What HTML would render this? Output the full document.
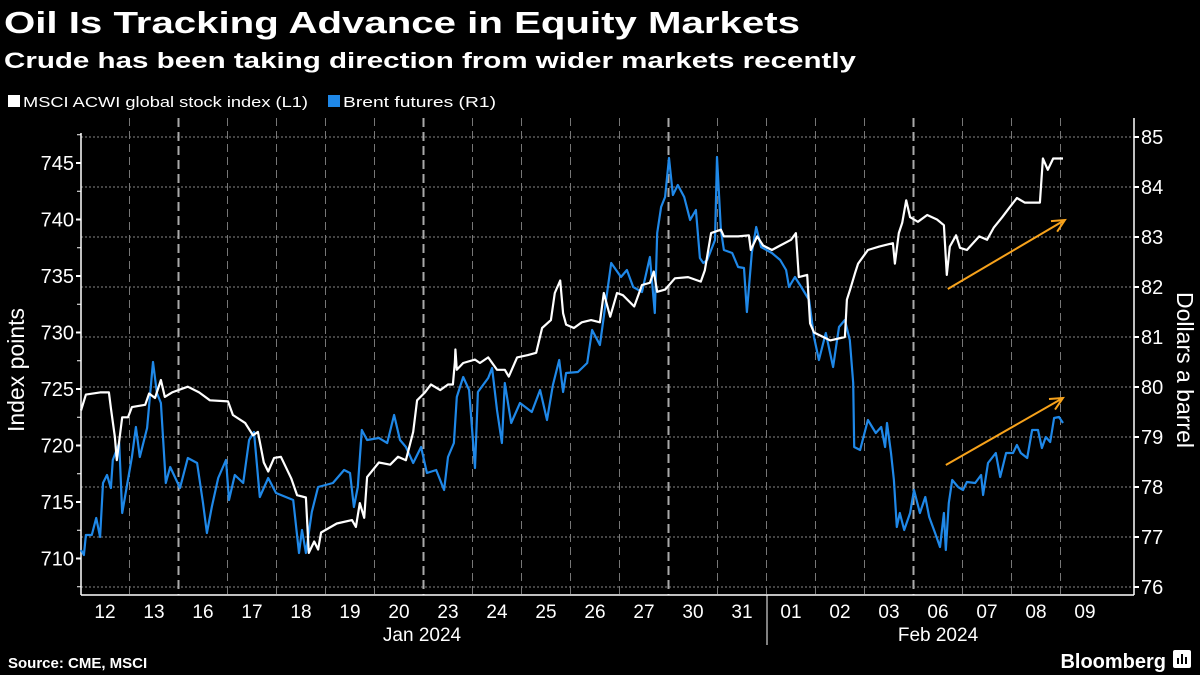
<!DOCTYPE html>
<html><head><meta charset="utf-8"><style>
html,body{margin:0;padding:0;background:#000;}
svg{display:block;font-family:"Liberation Sans",sans-serif;}
</style></head><body>
<svg id="chart" width="1200" height="675" viewBox="0 0 1200 675" xmlns="http://www.w3.org/2000/svg">
<rect width="1200" height="675" fill="#000"/>
<text x="4" y="33" fill="#fff" font-size="31" font-weight="bold" textLength="796" lengthAdjust="spacingAndGlyphs">Oil Is Tracking Advance in Equity Markets</text>
<text x="4" y="68" fill="#fff" font-size="22" font-weight="bold" textLength="852" lengthAdjust="spacingAndGlyphs">Crude has been taking direction from wider markets recently</text>
<g>
<g><rect x="8" y="95" width="12" height="12" fill="#fff"/><text x="23" y="107" fill="#fff" font-size="15" textLength="285" lengthAdjust="spacingAndGlyphs">MSCI ACWI global stock index (L1)</text></g>
<g><rect x="328" y="95" width="12" height="12" fill="#1f88e8"/><text x="343" y="107" fill="#fff" font-size="15" textLength="153" lengthAdjust="spacingAndGlyphs">Brent futures (R1)</text></g>
</g>
<g id="grid"></g>
<g id="axes"></g>
<g id="series"></g>
<text transform="translate(24,370) rotate(-90)" text-anchor="middle" fill="#fff" font-size="23">Index points</text>
<text transform="translate(1177,370) rotate(90)" text-anchor="middle" fill="#fff" font-size="23">Dollars a barrel</text>
<text x="8" y="668" fill="#fff" font-size="15" font-weight="bold">Source: CME, MSCI</text>
<g>
<text x="1166" y="668" text-anchor="end" fill="#fff" font-size="20" font-weight="bold">Bloomberg</text>
<rect x="1173" y="650" width="18" height="18" rx="2" fill="#fff"/>
<rect x="1177" y="658" width="2" height="6" fill="#000"/>
<rect x="1181" y="654" width="2" height="10" fill="#000"/>
<rect x="1185" y="657" width="2" height="7" fill="#000"/>
</g>
</svg>
<script>
const dayLabels = ["12","13","16","17","18","19","20","23","24","25","26","27","30","31","01","02","03","06","07","08","09"];
const weekBreaks = [1,6,11,16];
const leftTicks = [710,715,720,725,730,735,740,745];
const rightTicks = [76,77,78,79,80,81,82,83,84,85];
const msciTimes = [0.01,0.11,0.40,0.58,0.62,0.70,0.74,0.85,0.97,1.05,1.32,1.40,1.52,1.64,1.72,1.87,2.19,2.42,2.64,3.01,3.11,3.36,3.52,3.62,3.74,3.83,3.95,4.09,4.30,4.42,4.60,4.66,4.77,4.85,4.91,5.23,5.54,5.62,5.70,5.79,5.85,6.09,6.32,6.48,6.64,6.79,6.87,7.03,7.15,7.34,7.50,7.60,7.64,7.65,7.68,7.81,8.05,8.15,8.32,8.50,8.66,8.74,8.91,9.13,9.30,9.42,9.60,9.68,9.79,9.85,9.91,10.07,10.23,10.42,10.60,10.68,10.81,10.95,11.07,11.30,11.46,11.62,11.70,11.77,11.93,12.13,12.40,12.66,12.74,12.87,13.07,13.13,13.42,13.64,13.68,13.81,13.93,14.11,14.28,14.50,14.60,14.66,14.83,14.89,14.97,15.30,15.60,15.64,15.72,15.81,15.87,16.07,16.30,16.58,16.62,16.70,16.77,16.85,16.93,17.09,17.28,17.48,17.62,17.68,17.74,17.87,17.95,18.09,18.34,18.50,18.64,18.81,18.95,19.11,19.27,19.50,19.58,19.64,19.74,19.85,20.05];
const msciValues = [723.1,724.5,724.7,724.7,723.3,720.8,718.7,722.5,722.5,723.4,723.6,724.6,724.2,725.8,724.3,724.7,725.2,724.7,724.0,723.9,722.7,722.0,720.9,721.2,718.5,717.7,718.9,719.0,717.1,715.6,715.4,710.5,711.5,710.8,712.3,713.1,713.4,712.8,714.9,713.6,717.2,718.5,718.3,719.0,718.7,721.2,724.0,724.7,725.4,724.9,725.4,725.4,727.4,728.5,726.7,727.3,727.6,727.3,727.8,726.7,726.7,726.1,727.8,728.0,728.2,730.4,731.1,733.5,734.6,731.7,730.7,730.4,730.9,731.1,730.9,733.5,731.4,733.5,733.3,732.3,734.2,734.4,735.4,733.6,733.8,734.8,734.9,734.5,735.5,738.8,739.1,738.5,738.5,738.6,737.3,738.5,737.7,737.3,737.7,738.2,738.8,734.9,735.1,730.8,730.0,729.3,729.6,732.9,734.0,735.3,736.1,737.3,737.6,737.9,736.1,738.8,739.7,741.7,740.2,739.8,740.4,740.0,739.5,735.1,737.6,738.6,737.5,737.3,738.5,738.2,739.3,740.2,741.0,741.9,741.5,741.5,741.5,745.4,744.4,745.4,745.4];
const brentTimes = [0.01,0.07,0.11,0.23,0.32,0.40,0.46,0.54,0.62,0.66,0.79,0.85,1.05,1.13,1.21,1.36,1.48,1.56,1.64,1.74,1.83,2.03,2.19,2.38,2.50,2.58,2.68,2.81,2.97,3.03,3.15,3.32,3.44,3.54,3.66,3.83,3.99,4.34,4.46,4.52,4.60,4.72,4.85,5.15,5.38,5.50,5.58,5.66,5.74,5.85,6.09,6.26,6.40,6.52,6.64,6.79,6.95,7.07,7.26,7.42,7.50,7.62,7.68,7.81,7.93,8.05,8.11,8.32,8.40,8.50,8.60,8.66,8.79,8.97,9.21,9.38,9.52,9.64,9.77,9.85,9.91,10.15,10.34,10.44,10.60,10.83,11.03,11.15,11.28,11.46,11.62,11.72,11.77,11.85,11.93,12.01,12.09,12.19,12.32,12.44,12.56,12.64,12.71,12.79,12.95,12.99,13.07,13.13,13.30,13.42,13.54,13.60,13.70,13.79,13.89,14.11,14.28,14.40,14.46,14.58,14.71,14.87,14.97,15.07,15.21,15.36,15.48,15.60,15.70,15.77,15.79,15.91,16.07,16.23,16.34,16.42,16.46,16.54,16.60,16.66,16.72,16.81,16.93,17.01,17.13,17.24,17.32,17.44,17.54,17.62,17.66,17.72,17.79,17.91,18.01,18.09,18.26,18.38,18.42,18.52,18.68,18.77,18.89,19.03,19.11,19.19,19.32,19.42,19.54,19.62,19.70,19.79,19.87,19.97,20.05];
const brentValues = [76.74,76.64,77.04,77.04,77.38,77.0,78.08,78.24,77.98,78.54,78.88,77.48,78.6,79.2,78.6,79.18,80.5,79.88,79.68,78.08,78.4,77.98,78.58,78.48,77.68,77.08,77.6,78.18,78.54,77.74,78.24,78.08,78.94,79.1,77.8,78.18,77.88,77.74,76.68,77.14,76.68,77.5,78.0,78.08,78.34,78.28,77.6,78.0,79.14,78.94,78.98,78.88,79.44,78.94,78.8,78.48,78.8,78.28,78.34,77.94,78.6,78.88,79.8,80.2,79.94,78.38,79.9,80.18,80.38,79.54,78.88,80.08,79.28,79.68,79.5,79.94,79.34,80.04,80.54,79.9,80.28,80.3,80.48,81.14,80.84,82.48,82.2,82.34,82.0,81.9,82.6,81.48,83.08,83.6,83.8,84.58,83.84,84.04,83.8,83.34,83.54,82.58,82.48,82.54,82.94,84.6,83.14,82.74,82.68,82.4,82.38,81.5,82.68,83.2,82.8,82.68,82.54,82.34,82.0,82.2,82.0,81.74,81.0,80.54,81.08,80.4,81.2,81.34,80.94,80.08,78.8,78.74,79.34,79.08,79.2,78.8,79.28,78.68,78.14,77.2,77.48,77.14,77.48,77.94,77.48,77.8,77.4,77.08,76.8,77.48,76.74,77.68,78.14,78.0,77.94,78.1,78.08,78.24,77.84,78.48,78.68,78.2,78.68,78.68,78.84,78.68,78.58,79.14,79.14,78.78,79.0,78.9,79.38,79.4,79.28];
const arrowStartT = [17.70,17.66];
const arrowStartV = [81.96,78.44];
const arrowEndT = [20.09,20.05];
const arrowEndV = [83.34,79.78];

const NS = "http://www.w3.org/2000/svg";
const PL = 81, PR = 1134, PB = 595, PT = 118;
function xT(t){ return 80.5 + 49 * t; }
function yL(v){ return 163 + (745 - v) * 11.3; }
function yR(v){ return 137 + (85 - v) * 50; }
function mk(tag, attrs, parent){ const e = document.createElementNS(NS, tag); for (const k in attrs) e.setAttribute(k, attrs[k]); parent.appendChild(e); return e; }

const grid = document.getElementById('grid');
const axes = document.getElementById('axes');
const series = document.getElementById('series');

// horizontal gridlines (right axis)
rightTicks.forEach(v => {
  const l = mk('line', {x1: PL, x2: PR, y1: yR(v), y2: yR(v), stroke: '#888', 'stroke-width': 1, 'stroke-dasharray': '2,2'}, grid);
  
  
});
// vertical gridlines
for (let k = 0; k < dayLabels.length - 1; k++) {
  const x = xT(k + 1);
  const thick = weekBreaks.includes(k);
  const l = mk('line', {x1: x, x2: x, y1: PT, y2: PB, stroke: thick ? '#aaa' : '#777', 'stroke-width': thick ? 2 : 1, 'stroke-dasharray': thick ? '9,5' : '8,5'}, grid);
  
  
}
// axes lines
let a = mk('line', {x1: PL, x2: PL, y1: 133, y2: PB, stroke: '#fff', 'stroke-width': 1.5}, axes);


a = mk('line', {x1: PR, x2: PR, y1: PT, y2: PB, stroke: '#fff', 'stroke-width': 1.5}, axes);


a = mk('line', {x1: PL, x2: PR, y1: PB, y2: PB, stroke: '#fff', 'stroke-width': 1.5}, axes);


a = mk('line', {x1: 767, x2: 767, y1: PB, y2: 645, stroke: '#fff', 'stroke-width': 1}, axes);



leftTicks.forEach(v => {
  const y = yL(v);
  const tk = mk('line', {x1: PL - 5, x2: PL, y1: y, y2: y, stroke: '#fff', 'stroke-width': 2}, axes);
  
  
  const mn = mk('line', {x1: PL - 4, x2: PL, y1: yL(v + 2.5), y2: yL(v + 2.5), stroke: '#fff', 'stroke-width': 1}, axes);
  
  
  const t = mk('text', {x: PL - 7, y: y + 7, 'text-anchor': 'end', fill: '#fff', 'font-size': 20}, axes);
  t.textContent = v;
  
  
});
const mn0 = mk('line', {x1: PL - 4, x2: PL, y1: yL(707.5), y2: yL(707.5), stroke: '#fff', 'stroke-width': 1}, axes);


rightTicks.forEach(v => {
  const y = yR(v);
  const tk = mk('line', {x1: PR, x2: PR + 5, y1: y, y2: y, stroke: '#fff', 'stroke-width': 2}, axes);
  
  
  const t = mk('text', {x: PR + 7, y: y + 7, fill: '#fff', 'font-size': 20}, axes);
  t.textContent = v;
  
  
});
dayLabels.forEach((d, i) => {
  const t = mk('text', {x: xT(i + 0.5), y: 618, 'text-anchor': 'middle', fill: '#fff', 'font-size': 19}, axes);
  t.textContent = d;
  
  
});
let m = mk('text', {x: 422, y: 641, 'text-anchor': 'middle', fill: '#fff', 'font-size': 19}, axes);
m.textContent = 'Jan 2024';


m = mk('text', {x: 938, y: 641, 'text-anchor': 'middle', fill: '#fff', 'font-size': 19}, axes);
m.textContent = 'Feb 2024';



// series
const brentPath = brentTimes.map((t, i) => (i ? 'L' : 'M') + xT(t).toFixed(1) + ',' + yR(brentValues[i]).toFixed(1)).join('');
const bp = mk('path', {d: brentPath, fill: 'none', stroke: '#1f88e8', 'stroke-width': 2.2, 'stroke-linejoin': 'round'}, series);


const msciPath = msciTimes.map((t, i) => (i ? 'L' : 'M') + xT(t).toFixed(1) + ',' + yL(msciValues[i]).toFixed(1)).join('');
const mp = mk('path', {d: msciPath, fill: 'none', stroke: '#fff', 'stroke-width': 2.2, 'stroke-linejoin': 'round'}, series);



// arrows
for (let i = 0; i < arrowStartT.length; i++) {
  const x1 = xT(arrowStartT[i]), y1 = yR(arrowStartV[i]), x2 = xT(arrowEndT[i]), y2 = yR(arrowEndV[i]);
  const ang = Math.atan2(y2 - y1, x2 - x1);
  const h = 14;
  const p1x = x2 - h * Math.cos(ang - 0.45), p1y = y2 - h * Math.sin(ang - 0.45);
  const p2x = x2 - h * Math.cos(ang + 0.45), p2y = y2 - h * Math.sin(ang + 0.45);
  const ar = mk('path', {d: `M${x1},${y1}L${x2},${y2}M${p1x},${p1y}L${x2},${y2}L${p2x},${p2y}`, fill: 'none', stroke: '#f7a21b', 'stroke-width': 2}, series);
  
  
}
</script>
</body></html>
